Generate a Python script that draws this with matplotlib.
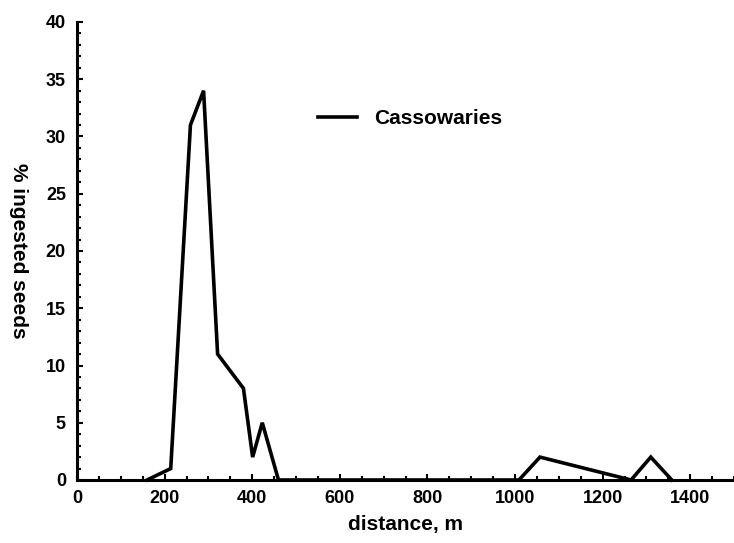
import matplotlib
matplotlib.use("Agg")
import matplotlib.pyplot as plt
from matplotlib.ticker import MultipleLocator

plt.rcParams['font.family'] = ['Liberation Sans', 'DejaVu Sans']
plt.rcParams['font.weight'] = 'bold'

distance = [160, 214, 259, 289, 321, 380, 401, 423, 460, 1009, 1057, 1265, 1310, 1358]
pct_seeds = [0, 1, 31, 34, 11, 8, 2, 5, 0, 0, 2, 0, 2, 0]
series_name = "Cassowaries"
x_ticks = [0, 200, 400, 600, 800, 1000, 1200, 1400]
y_ticks = [0, 5, 10, 15, 20, 25, 30, 35, 40]

fig = plt.figure(figsize=(7.34, 5.43), dpi=100)
ax = fig.add_axes([77/734, 1-480/543, 1-77/734, (480-22)/543])

ax.plot(distance, pct_seeds, color='black', lw=2.6, solid_joinstyle='miter',
        label=series_name, clip_on=False)

ax.set_xlim(0, 1500)
ax.set_ylim(0, 40)
ax.set_xticks(x_ticks)
ax.set_yticks(y_ticks)
ax.xaxis.set_minor_locator(MultipleLocator(50))
ax.yaxis.set_minor_locator(MultipleLocator(1))
ax.tick_params(which='both', direction='in', width=1.5, labelsize=13)
ax.tick_params(which='major', length=4)
ax.tick_params(which='minor', length=3)
ax.tick_params(axis='y', pad=8)
ax.tick_params(axis='x', pad=7)
for s in ['top', 'right']:
    ax.spines[s].set_visible(False)
for s in ['left', 'bottom']:
    ax.spines[s].set_linewidth(2.2)

ax.set_xlabel('distance, m', fontsize=15, fontweight='bold', labelpad=6)
ax.set_ylabel('% ingested seeds', fontsize=15, fontweight='bold',
              rotation=270, va='center', ha='center')
ax.yaxis.set_label_coords(-0.089, 0.5)

ax.legend(loc='center left', bbox_to_anchor=(299/734, 1-119/543),
          bbox_transform=fig.transFigure, frameon=False, fontsize=15,
          handlelength=1.9, handletextpad=0.8)

fig.savefig('out.png', dpi=100)
